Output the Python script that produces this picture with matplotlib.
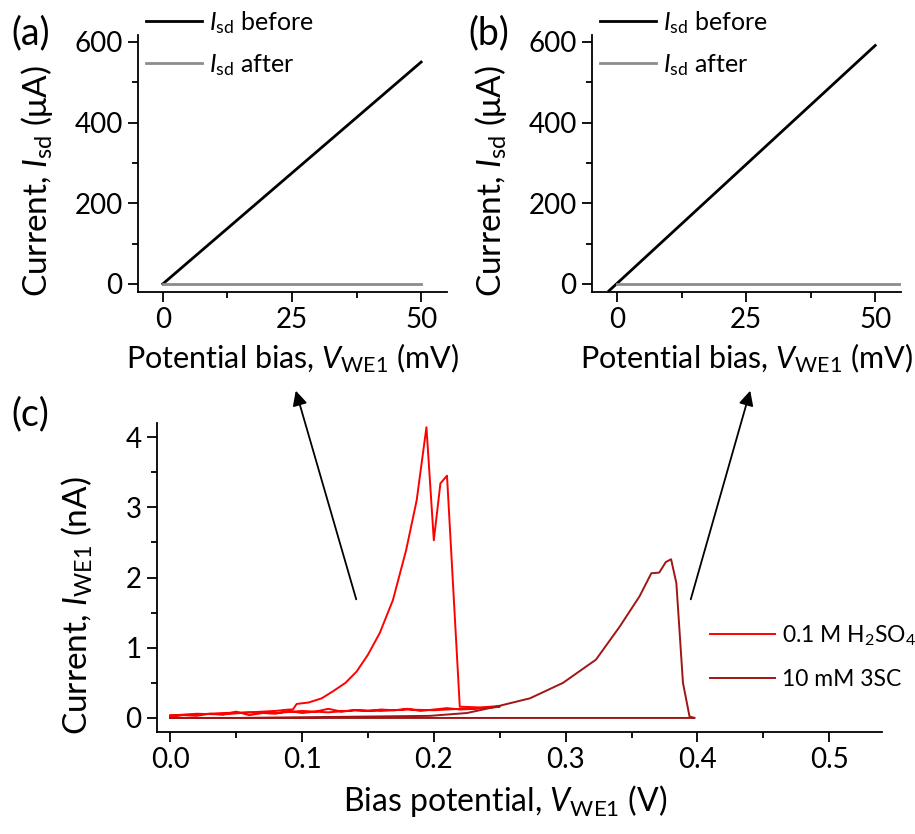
import matplotlib
matplotlib.use('Agg')
import matplotlib.pyplot as plt
from matplotlib.ticker import MultipleLocator, FormatStrFormatter
from matplotlib.patches import FancyArrowPatch

plt.rcParams['font.family'] = ['Lato', 'DejaVu Sans']
plt.rcParams['mathtext.fontset'] = 'custom'
plt.rcParams['mathtext.rm'] = 'Lato'
plt.rcParams['mathtext.it'] = 'Lato:italic'
plt.rcParams['axes.linewidth'] = 1.3

# panel (a): source-drain current before / after
a_v_before = [0, 50]
a_i_before = [0, 550]
a_v_after = [0, 50]
a_i_after = [0, 0]

# panel (b)
b_v_before = [-1.6, 50]
b_i_before = [-17, 591]
b_v_after = [0, 55]
b_i_after = [0, 0]

# panel (c): 0.1 M H2SO4 sweeps
h2so4_v_peak = [0.0, 0.02, 0.04, 0.06, 0.08, 0.09, 0.093, 0.096, 0.105, 0.115, 0.1235,
                0.133, 0.1414, 0.15, 0.159, 0.169, 0.179, 0.187, 0.1944, 0.2, 0.205,
                0.21, 0.2197, 0.235, 0.25]
h2so4_i_peak = [0.04, 0.05, 0.07, 0.08, 0.1, 0.12, 0.12, 0.2, 0.22, 0.28, 0.38,
                0.5, 0.66, 0.9, 1.21, 1.68, 2.39, 3.1, 4.14, 2.53, 3.34,
                3.45, 0.16, 0.15, 0.17]
h2so4_v_base = [0.0, 0.01, 0.02, 0.03, 0.04, 0.05, 0.06, 0.07, 0.08, 0.09, 0.1, 0.11,
                0.12, 0.13, 0.14, 0.15, 0.16, 0.17, 0.18, 0.19, 0.2, 0.21, 0.22,
                0.23, 0.24, 0.25, 0.24, 0.22, 0.2, 0.18, 0.16, 0.14, 0.12, 0.1,
                0.08, 0.06, 0.04, 0.02, 0.0]
h2so4_i_base = [0.02, 0.04, 0.03, 0.06, 0.05, 0.09, 0.04, 0.07, 0.06, 0.1, 0.07, 0.09,
                0.13, 0.09, 0.11, 0.1, 0.12, 0.11, 0.13, 0.1, 0.12, 0.14, 0.12,
                0.13, 0.15, 0.16, 0.14, 0.13, 0.11, 0.12, 0.1, 0.11, 0.08, 0.1,
                0.07, 0.08, 0.05, 0.06, 0.03]

# panel (c): 10 mM 3SC sweep
sc_v = [0.0, 0.05, 0.1, 0.15, 0.197, 0.225, 0.247, 0.273, 0.298, 0.323, 0.341, 0.356,
        0.365, 0.371, 0.376, 0.38, 0.384, 0.389, 0.394, 0.398, 0.3, 0.2, 0.1, 0.0]
sc_i = [0.0, 0.0, 0.01, 0.02, 0.03, 0.07, 0.16, 0.28, 0.5, 0.83, 1.3, 1.73,
        2.06, 2.07, 2.22, 2.26, 1.92, 0.5, 0.02, 0.0, 0.0, 0.0, 0.0, 0.0]

W, H = 915, 834
fig = plt.figure(figsize=(W / 100, H / 100), dpi=100)


def px_rect(l, t, r, b):
    return [l / W, 1 - b / H, (r - l) / W, (b - t) / H]


def style(ax):
    for s in ['top', 'right']:
        ax.spines[s].set_visible(False)
    ax.tick_params(which='major', direction='out', length=7, width=1.3, labelsize=20, pad=4)
    ax.tick_params(which='minor', direction='out', length=4, width=1.3)


def iv_panel(rect, vb, ib, va, ia, xlim, label, legend_x):
    ax = fig.add_axes(px_rect(*rect))
    style(ax)
    ax.plot(vb, ib, color='black', lw=2.0, label=r'$\mathit{I}_{\mathrm{sd}}$ before')
    ax.plot(va, ia, color='#8c8c8c', lw=2.0, label=r'$\mathit{I}_{\mathrm{sd}}$ after')
    ax.set_xlim(*xlim)
    ax.set_ylim(-20, 617)
    ax.xaxis.set_major_locator(MultipleLocator(25))
    ax.xaxis.set_minor_locator(MultipleLocator(12.5))
    ax.yaxis.set_major_locator(MultipleLocator(200))
    ax.yaxis.set_minor_locator(MultipleLocator(100))
    ax.set_xlabel(r'Potential bias, $\mathit{V}_{\mathrm{WE1}}$ (mV)', fontsize=22, labelpad=6)
    ax.set_ylabel(r'Current, $\mathit{I}_{\mathrm{sd}}$ ($\mathrm{\mu}$A)', fontsize=24, labelpad=14)
    ax.yaxis.label.set_y(0.43)
    ax.legend(loc='upper left', bbox_to_anchor=(legend_x / W, 1 - 9 / H),
              bbox_transform=fig.transFigure, frameon=False, fontsize=18,
              handlelength=2.25, handletextpad=0.28, labelspacing=0.65,
              borderpad=0, borderaxespad=0)
    fig.text(label[1] / W, 1 - label[2] / H, label[0], fontsize=27, va='center')
    return ax


iv_panel((138, 35, 447, 292), a_v_before, a_i_before, a_v_after, a_i_after,
         (-4.8, 55), ('(a)', 11, 33), 146)
iv_panel((592, 35, 901, 292), b_v_before, b_i_before, b_v_after, b_i_after,
         (-4.9, 55), ('(b)', 468, 33), 600)

axc = fig.add_axes(px_rect(157, 423, 882, 732))
style(axc)
axc.plot(h2so4_v_base, h2so4_i_base, color='#ff0000', lw=1.4)
axc.plot(h2so4_v_peak, h2so4_i_peak, color='#ff0000', lw=1.4, label=r'0.1 M H$_2$SO$_4$')
axc.plot(sc_v, sc_i, color='#a01515', lw=1.4, label='10 mM 3SC')
axc.set_xlim(-0.01, 0.54)
axc.set_ylim(-0.2, 4.2)
axc.xaxis.set_major_locator(MultipleLocator(0.1))
axc.xaxis.set_minor_locator(MultipleLocator(0.05))
axc.yaxis.set_major_locator(MultipleLocator(1))
axc.yaxis.set_minor_locator(MultipleLocator(0.5))
axc.xaxis.set_major_formatter(FormatStrFormatter('%.1f'))
axc.set_xlabel(r'Bias potential, $\mathit{V}_{\mathrm{WE1}}$ (V)', fontsize=23, labelpad=7)
axc.xaxis.label.set_x(0.48)
axc.set_ylabel(r'Current, $\mathit{I}_{\mathrm{WE1}}$ (nA)', fontsize=24, labelpad=22)
axc.yaxis.label.set_y(0.41)
axc.legend(loc='upper left', bbox_to_anchor=(710 / W, 1 - 623 / H),
           bbox_transform=fig.transFigure, frameon=False, fontsize=16.5,
           handlelength=2.85, handletextpad=0.3, labelspacing=0.95,
           borderpad=0, borderaxespad=0)
fig.text(11 / W, 1 - 414 / H, '(c)', fontsize=27, va='center')

# arrows pointing from the traces up to panels (a) and (b)
for tail, head in [((357, 602), (295, 388)), ((690, 602), (751, 388))]:
    fig.add_artist(FancyArrowPatch((tail[0] / W, 1 - tail[1] / H), (head[0] / W, 1 - head[1] / H),
                                   transform=fig.transFigure, arrowstyle='-|>',
                                   mutation_scale=22, color='black', lw=1.3))

fig.savefig('out.png', dpi=100)
